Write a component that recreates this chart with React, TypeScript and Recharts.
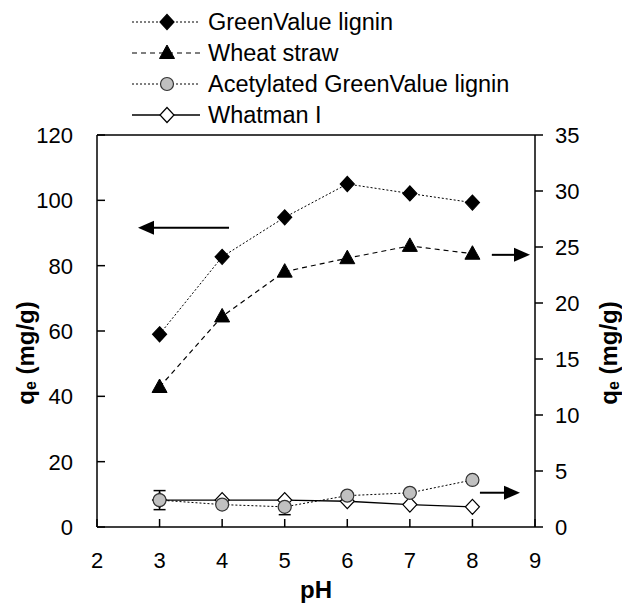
import React from "react";
import { LineChart, Line, XAxis, YAxis, ErrorBar, Legend, ReferenceLine } from "recharts";

// pH values and adsorption capacities
const PH = [3, 4, 5, 6, 7, 8];
const GREENVALUE = [59, 82.7, 94.8, 105, 102.1, 99.3]; // left axis
const WHEAT_STRAW = [12.5, 18.8, 22.8, 24.0, 25.1, 24.4]; // right axis
const ACETYLATED = [2.4, 2.0, 1.8, 2.8, 3.05, 4.2]; // right axis
const ACETYLATED_ERR = [0.85, 0.2, 0.7, 0.2, 0.2, 0.2];
const WHATMAN = [2.4, 2.4, 2.4, 2.3, 2.0, 1.8]; // right axis

const X_TICKS = [2, 3, 4, 5, 6, 7, 8, 9];
const LEFT_TICKS = [0, 20, 40, 60, 80, 100, 120];
const RIGHT_TICKS = [0, 5, 10, 15, 20, 25, 30, 35];

const FONT = '"Liberation Sans", Arial, sans-serif';

const data = PH.map((ph, i) => ({
  ph,
  green: GREENVALUE[i],
  wheat: WHEAT_STRAW[i],
  acet: ACETYLATED[i],
  acetErr: ACETYLATED_ERR[i],
  whatman: WHATMAN[i],
}));

const diamond = (cx: number, cy: number, fill: string, key?: any) => (
  <polygon
    key={key}
    points={`${cx},${cy - 7.5} ${cx + 7},${cy} ${cx},${cy + 7.5} ${cx - 7},${cy}`}
    fill={fill}
    stroke="#000"
    strokeWidth={1.2}
  />
);
const triangle = (cx: number, cy: number, key?: any) => (
  <polygon
    key={key}
    points={`${cx},${cy - 8} ${cx + 7.5},${cy + 5.5} ${cx - 7.5},${cy + 5.5}`}
    fill="#000"
    stroke="#000"
  />
);
const circle = (cx: number, cy: number, key?: any) => (
  <circle key={key} cx={cx} cy={cy} r={6.5} fill="#c0c0c0" stroke="#333" strokeWidth={1.2} />
);

const SERIES = [
  { key: "green", name: "GreenValue lignin", dash: "2 2", width: 1, marker: (x: number, y: number, k?: any) => diamond(x, y, "#000", k) },
  { key: "wheat", name: "Wheat straw", dash: "5 4", width: 1.2, marker: (x: number, y: number, k?: any) => triangle(x, y, k) },
  { key: "acet", name: "Acetylated GreenValue lignin", dash: "2 2", width: 1, marker: (x: number, y: number, k?: any) => circle(x, y, k) },
  { key: "whatman", name: "Whatman I", dash: undefined, width: 1.3, marker: (x: number, y: number, k?: any) => diamond(x, y, "#fff", k) },
];

const LegendContent = () => (
  <svg width={624} height={132} style={{ fontFamily: FONT }}>
    {SERIES.map((s, i) => {
      const y = 22 + i * 31;
      return (
        <g key={s.key}>
          <line x1={132} y1={y} x2={200} y2={y} stroke="#000" strokeWidth={s.width} strokeDasharray={s.dash} />
          {s.marker(167, y)}
          <text x={208} y={y + 8} fontSize={23.5} fill="#000">
            {s.name}
          </text>
        </g>
      );
    })}
  </svg>
);

const XTick = ({ x, y, payload }: any) => (
  <g>
    <line x1={x} y1={y} x2={x} y2={y - 8} stroke="#000" strokeWidth={1.5} />
    <text x={x} y={y + 41} textAnchor="middle" fontSize={22} fill="#000" fontFamily={FONT}>
      {payload.value}
    </text>
  </g>
);

const LeftTick = ({ x, y, payload }: any) => (
  <g>
    <line x1={x} y1={y} x2={x + 8} y2={y} stroke="#000" strokeWidth={1.5} />
    <text x={x - 24} y={y + 8} textAnchor="end" fontSize={22} fill="#000" fontFamily={FONT}>
      {payload.value}
    </text>
  </g>
);

const YLabel = ({ viewBox, dx }: any) => {
  const cx = viewBox.x + dx;
  const cy = viewBox.y + viewBox.height / 2 + 22;
  return (
    <text
      transform={`translate(${cx},${cy}) rotate(-90)`}
      textAnchor="middle"
      dominantBaseline="central"
      fontWeight="bold"
      fontSize={24}
      fill="#000"
      fontFamily={FONT}
    >
      q<tspan fontSize={16} dy={5}>e</tspan>
      <tspan dy={-5}> (mg/g)</tspan>
    </text>
  );
};

const XLabel = ({ viewBox }: any) => (
  <text
    x={viewBox.x + viewBox.width / 2}
    y={viewBox.y + 71}
    textAnchor="middle"
    fontWeight="bold"
    fontSize={24}
    fill="#000"
    fontFamily={FONT}
  >
    pH
  </text>
);

const Arrow = (p: any) => {
  const { x1, y1, x2, y2 } = p;
  const dir = Math.sign(x2 - x1) || 1;
  const head = 16;
  return (
    <g>
      <line x1={x1} y1={y1} x2={x2 - dir * head} y2={y2} stroke="#000" strokeWidth={2} />
      <polygon points={`${x2},${y2} ${x2 - dir * head},${y2 - 7} ${x2 - dir * head},${y2 + 7}`} fill="#000" />
    </g>
  );
};

export default function App() {
  return (
    <div style={{ position: "absolute", left: 0, top: 0, fontFamily: FONT }}>
      <LineChart width={624} height={607} data={data} margin={{ top: 135, right: 0, bottom: 0, left: 0 }}>
        <XAxis
          dataKey="ph"
          type="number"
          domain={[2, 9]}
          ticks={X_TICKS}
          height={80}
          tickSize={0}
          tickMargin={0}
          tickLine={false}
          tick={<XTick />}
          stroke="#000"
          strokeWidth={1.5}
          interval={0}
          label={{ content: (p: any) => <XLabel {...p} /> }}
        />
        <YAxis
          yAxisId="left"
          domain={[0, 120]}
          ticks={LEFT_TICKS}
          width={97}
          tickSize={0}
          tickMargin={0}
          tickLine={false}
          tick={<LeftTick />}
          stroke="#000"
          strokeWidth={1.5}
          interval={0}
          label={{ content: (p: any) => <YLabel {...p} dx={25} /> }}
        />
        <YAxis
          yAxisId="right"
          orientation="right"
          domain={[0, 35]}
          ticks={RIGHT_TICKS}
          width={89}
          tickSize={8}
          tickMargin={12}
          stroke="#000"
          strokeWidth={1.5}
          interval={0}
          tick={{ fontSize: 22, fill: "#000", fontFamily: FONT }}
          label={{ content: (p: any) => <YLabel {...p} dx={73} /> }}
        />
        <ReferenceLine yAxisId="left" y={120} stroke="#000" strokeWidth={1.5} />
        <ReferenceLine
          yAxisId="left"
          segment={[{ x: 4.11, y: 91.6 }, { x: 2.655, y: 91.6 }]}
          shape={Arrow}
        />
        <ReferenceLine
          yAxisId="right"
          segment={[{ x: 8.31, y: 24.3 }, { x: 8.92, y: 24.3 }]}
          shape={Arrow}
        />
        <ReferenceLine
          yAxisId="right"
          segment={[{ x: 8.12, y: 3.06 }, { x: 8.76, y: 3.06 }]}
          shape={Arrow}
        />
        <Line
          yAxisId="right"
          dataKey="whatman"
          stroke="#000"
          strokeWidth={1.3}
          isAnimationActive={false}
          dot={(p: any) => diamond(p.cx, p.cy, "#fff", p.key ?? p.index)}
        />
        <Line
          yAxisId="right"
          dataKey="acet"
          stroke="#000"
          strokeWidth={1}
          strokeDasharray="2 2"
          isAnimationActive={false}
          dot={(p: any) => circle(p.cx, p.cy, p.key ?? p.index)}
        >
          <ErrorBar dataKey="acetErr" direction="y" width={6} stroke="#000" strokeWidth={1.5} />
        </Line>
        <Line
          yAxisId="right"
          dataKey="wheat"
          stroke="#000"
          strokeWidth={1.2}
          strokeDasharray="5 4"
          isAnimationActive={false}
          dot={(p: any) => triangle(p.cx, p.cy, p.key ?? p.index)}
        />
        <Line
          yAxisId="left"
          dataKey="green"
          stroke="#000"
          strokeWidth={1}
          strokeDasharray="2 2"
          isAnimationActive={false}
          dot={(p: any) => diamond(p.cx, p.cy, "#000", p.key ?? p.index)}
        />
        <Legend
          layout="vertical"
          align="center"
          verticalAlign="middle"
          content={<LegendContent />}
          wrapperStyle={{ top: 0, left: 0, width: 624, height: 132 }}
        />
      </LineChart>
    </div>
  );
}
